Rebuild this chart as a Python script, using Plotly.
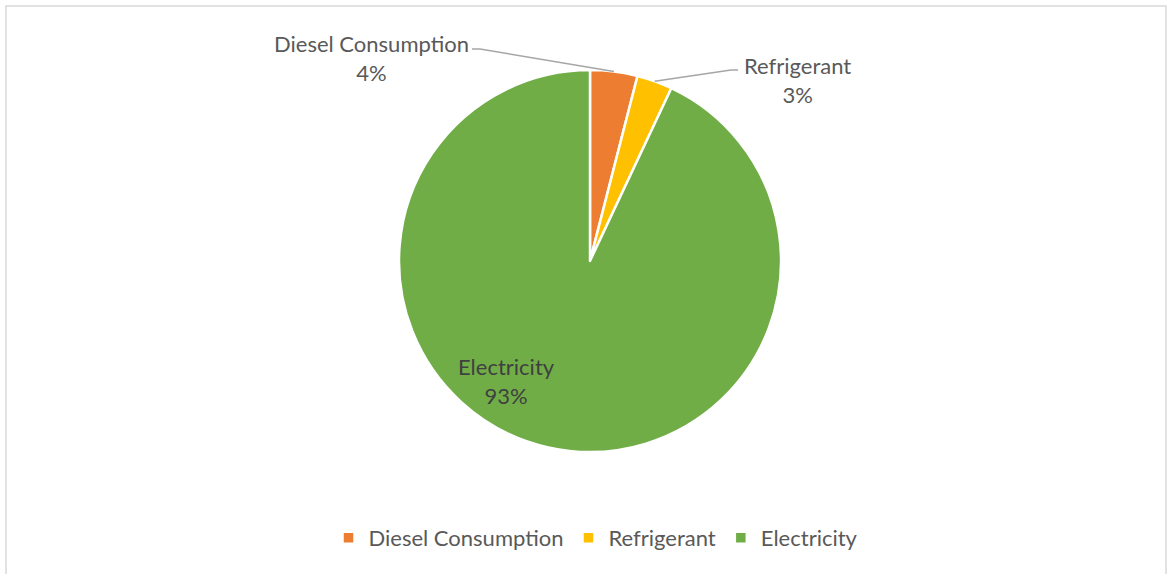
import math
import plotly.graph_objects as go

# Emission sources and their share of the total (%)
sources = ["Diesel Consumption", "Refrigerant", "Electricity"]
shares = [4, 3, 93]
colors = ["#ED7D31", "#FFC000", "#70AD47"]

W, H = 1168, 574
FONT = "Lato"
FONT_SIZE = 22
TEXT_GRAY = "#595959"


def px(x):
    return x / W


def py(y):
    return 1 - y / H


# pie geometry in pixels
cx, cy, r = 590, 261, 191

fig = go.Figure(
    go.Pie(
        labels=sources,
        values=shares,
        sort=False,
        direction="clockwise",
        rotation=0,
        marker=dict(colors=colors, line=dict(color="white", width=2.5)),
        textinfo="none",
        hoverinfo="label+percent",
        domain=dict(x=[px(cx - r), px(cx + r)], y=[py(cy + r), py(cy - r)]),
        showlegend=True,
    )
)


def edge_point(idx):
    """Point on the rim at the middle of slice idx (clockwise from 12 o'clock)."""
    total = sum(shares)
    before = sum(shares[:idx])
    ang = 2 * math.pi * (before + shares[idx] / 2) / total
    return cx + r * math.sin(ang), cy - r * math.cos(ang)


shapes = [
    # outer chart border
    dict(type="rect", xref="paper", yref="paper",
         x0=px(6), x1=px(1166), y0=py(600), y1=py(6),
         line=dict(color="#D9D9D9", width=1.5), fillcolor="rgba(0,0,0,0)"),
]

# leader line for Diesel Consumption
ex, ey = edge_point(0)
shapes.append(dict(
    type="path", xref="paper", yref="paper",
    path=f"M {px(472)} {py(49)} L {px(480)} {py(49)} L {px(ex)} {py(ey)}",
    line=dict(color="#A6A6A6", width=1.5)))

# leader line for Refrigerant
ex, ey = edge_point(1)
shapes.append(dict(
    type="path", xref="paper", yref="paper",
    path=f"M {px(ex)} {py(ey)} L {px(731)} {py(70)} L {px(738)} {py(70)}",
    line=dict(color="#A6A6A6", width=1.5)))

annotations = [
    dict(x=px(371), y=py(58), text=f"{sources[0]}<br>{shares[0]}%",
         font=dict(color=TEXT_GRAY)),
    dict(x=px(797), y=py(80), text=f"{sources[1]}<br>{shares[1]}%",
         font=dict(color=TEXT_GRAY)),
    dict(x=px(506), y=py(381), text=f"{sources[2]}<br>{shares[2]}%",
         font=dict(color="#404040")),
]
for a in annotations:
    a.update(xref="paper", yref="paper", showarrow=False,
             xanchor="center", yanchor="middle", align="center")
    a["font"].update(family=FONT, size=FONT_SIZE)

fig.update_layout(
    width=W, height=H,
    margin=dict(l=0, r=0, t=0, b=0),
    paper_bgcolor="white",
    plot_bgcolor="white",
    font=dict(family=FONT, size=FONT_SIZE, color=TEXT_GRAY),
    shapes=shapes,
    annotations=annotations,
    legend=dict(orientation="h", x=px(596), xanchor="center",
                y=py(538), yanchor="middle",
                font=dict(family=FONT, size=FONT_SIZE, color=TEXT_GRAY),
                itemwidth=30, traceorder="normal"),
)

fig.write_html("out.html")
